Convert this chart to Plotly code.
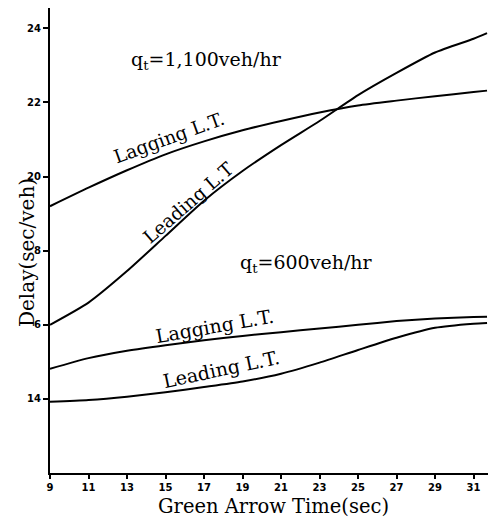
import plotly.graph_objects as go

# Green arrow time (sec)
green_time = [9, 11, 13, 15, 17, 19, 21, 23, 25, 27, 29, 31, 31.7]

# Delay (sec/veh), qt = 1,100 veh/hr
lag_1100 = [19.2, 19.7, 20.17, 20.6, 20.95, 21.25, 21.5, 21.73, 21.92, 22.05, 22.17, 22.28, 22.32]
lead_1100 = [16.0, 16.6, 17.45, 18.4, 19.35, 20.15, 20.85, 21.5, 22.2, 22.8, 23.35, 23.72, 23.87]

# Delay (sec/veh), qt = 600 veh/hr
lag_600 = [14.81, 15.1, 15.3, 15.45, 15.58, 15.7, 15.8, 15.9, 16.0, 16.1, 16.17, 16.21, 16.22]
lead_600 = [13.92, 13.97, 14.06, 14.18, 14.32, 14.47, 14.68, 14.98, 15.32, 15.65, 15.92, 16.03, 16.05]

x_ticks = [9, 11, 13, 15, 17, 19, 21, 23, 25, 27, 29, 31]
y_ticks = [14, 16, 18, 20, 22, 24]
y_tick_text = ["14", "6", "8", "20", "22", "24"]

SERIF = "DejaVu Serif, Liberation Serif, serif"
TICKFONT = dict(family="DejaVu Sans, Liberation Sans, sans-serif", size=10, color="black", weight="bold")

fig = go.Figure()
for ys in (lag_1100, lead_1100, lag_600, lead_600):
    fig.add_trace(go.Scatter(
        x=green_time, y=ys, mode="lines",
        line=dict(color="black", width=2, shape="spline", smoothing=0.6),
        showlegend=False, hoverinfo="skip",
    ))

labels = [
    # text, x, y, angle, size
    ("q<sub>t</sub>=1,100veh/hr", 17.15, 23.14, 0, 19),
    ("q<sub>t</sub>=600veh/hr", 22.3, 17.65, 0, 19),
    ("Lagging L.T.", 15.2, 21.05, -20, 18.5),
    ("Leading L.T", 16.2, 19.3, -41, 18.5),
    ("Lagging L.T.", 17.56, 15.96, -10, 19),
    ("Leading L.T.", 17.9, 14.8, -12, 19),
]
for text, x, y, ang, size in labels:
    fig.add_annotation(
        x=x, y=y, xref="x", yref="y", text=text, showarrow=False,
        textangle=ang, font=dict(family=SERIF, size=size, color="black"),
    )

# Axis titles
fig.add_annotation(
    x=0, y=0.473, xref="paper", yref="paper", xshift=-37, text="Delay(sec/veh)",
    textangle=-90, showarrow=False, font=dict(family=SERIF, size=20, color="black"),
)
fig.add_annotation(
    x=0.511, y=0, xref="paper", yref="paper", yshift=-47, text="Green Arrow Time(sec)",
    showarrow=False, font=dict(family=SERIF, size=19.5, color="black"),
)

fig.update_layout(
    width=493, height=532,
    margin=dict(l=50, r=5, t=8, b=59),
    paper_bgcolor="white", plot_bgcolor="white",
    xaxis=dict(
        range=[9, 31.75], tickvals=x_ticks, ticktext=[str(v) for v in x_ticks],
        showgrid=False, zeroline=False, showline=True, linecolor="black", linewidth=2,
        ticks="outside", ticklen=4, tickwidth=1.5, tickcolor="black",
        tickfont=TICKFONT, automargin=False,
    ),
    yaxis=dict(
        range=[12, 24.55], tickvals=y_ticks, ticktext=y_tick_text,
        showgrid=False, zeroline=False, showline=True, linecolor="black", linewidth=2,
        ticks="outside", ticklen=5, tickwidth=1.5, tickcolor="black",
        tickfont=TICKFONT, automargin=False,
    ),
)

fig.write_html("out.html")
